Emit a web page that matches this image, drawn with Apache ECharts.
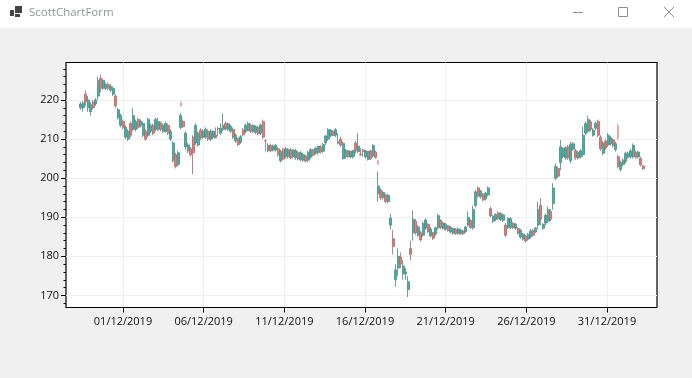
<!DOCTYPE html>
<html>
<head>
<meta charset="utf-8">
<title>ScottChartForm</title>
<script src="https://cdn.jsdelivr.net/npm/echarts@6/dist/echarts.min.js"></script>
<style>
  html, body { margin: 0; padding: 0; background: #f0f0f0; }
  #chart { width: 692px; height: 378px; }
</style>
</head>
<body>
<div id="chart"></div>
<script>
// x positions: days of December 2019, first candle and spacing
const firstDay = -1.63
const dayStep = 0.155

const opens = [
  218,218,221.5,218,217,219.5,219,221,225.5,223,223,224,222.5,221.5,221,215.5,213.5,214.5,210.5,210,
  214,212.5,212.5,215,213.5,211,212,211,212,213.5,212.5,212.5,214,212,212,213.5,210,204.5,206,203.5,
  213,214.5,208,207,207.5,210.5,209,208.5,212.3,210.5,210.5,212,210,210.5,211,212.7,211.5,212.5,214,212.5,
  212,212.5,209.5,210.2,209.2,212.3,212,212.2,213.5,212,211.7,213,211.5,214.5,209.5,207,208.3,207.2,207.2,207.5,
  204.5,207.3,205.5,205.5,207.2,205.5,205.2,206.5,204.7,204.6,205.7,204.6,205.4,207.2,206.4,206.5,208,206.9,209,210,
  210.9,212,211,209,210,205,205.5,207,205.4,205.5,209,206.8,206.1,207.2,205.4,204.8,207,205.7,206.7,196,
  197,195,195.7,194,188,184.5,174,177,179.8,175.5,175.5,171.5,182,186,189,185.4,186,185.4,187.2,188.2,
  185.2,186,185.7,187.3,189.2,187.2,186.9,187.8,186.2,185.9,186.9,185.9,185.8,186.5,186.3,188,189.2,187.3,193,197.5,
  195.2,195.9,194.7,195.7,192.2,189,189.4,191.1,189.4,189.2,188,187.4,187.4,188.4,187.2,187.1,184.9,184.4,185.2,184.4,
  185,186.6,186.2,188,193,187.2,188.5,189,191.5,193.5,200,202.5,204,205.5,205.2,208,204.5,207.4,207,205.2,
  205.5,206,211.5,212,214.4,211,212.8,214.5,210.5,206.4,209.5,208.5,208.8,209.8,207.3,205.5,202.2,203.5,204.3,205.4,
  205.5,205.5,206.6,205.4,205,203.1
]
const closes = [
  219,219.3,219.5,220,218.8,218,220,225,223,225,224,223,223.5,223,218.5,217.5,216,213,213,212,
  211,216,214.5,213,214.5,214,210,215,213.5,211.5,215,214.5,212.5,213.5,214,211.5,212,209,203,206.5,
  216,213.2,211.5,208.5,206,206.5,213.5,211.5,210.3,212,212.5,210,212,212,210.3,212.6,212.8,213.5,212.6,213.9,
  213.3,210.5,211,208.6,210.6,211.1,213.5,214,212,213.5,213.2,211.4,213.6,210.5,209.5,208.4,207,208.2,208.4,206,
  206.8,204.9,207.5,207.3,205.2,207.2,207,204.9,206.5,206,204.4,206.6,207.3,205.9,207.7,208.2,206.7,208.6,210.8,212.4,
  212.2,210.9,212.4,209.3,208.5,208.9,207.1,205.5,206.9,207,207,208.2,205.9,206.9,207,206.8,205,208.3,205.3,198,
  195,196.3,194,195.6,189.8,182.5,176.5,180,178,177.5,176,173.5,180.5,189.5,186,187.5,184.2,188.4,189.3,186.3,
  187,184.6,187.3,190.4,187.3,188.5,188.2,186.6,187.4,187.1,185.8,187,186.7,185.8,187.5,190,187.3,192,196.5,195.5,
  196.7,194.4,196.1,197.5,190.4,190.2,190.7,189.7,190.9,190.6,185.4,189.7,189.6,187.3,188.2,185.9,186.6,185.7,183.9,185.6,
  186.5,185.4,187.2,192,189.5,188.2,190.5,192,189.5,197.5,203,200.5,208,207.5,207.8,205.2,208.7,208.8,205.2,206.6,
  207,211,214,215,212.5,212.3,214,211,207.5,209,207.7,211,210.3,208.3,208.8,203,204,204.6,206.3,206.4,
  207,208.4,205.4,206.7,203.4,202.4
]
const lows = [
  217.5,217,218.5,217,216,217.5,218.5,220,222,222.5,222.5,222.5,222,221,218,215,213,212.5,210,209.5,
  210.5,212,212,212.5,213,210.5,209.5,210.5,211.5,211,212,212,212,211.5,211.5,211,209.5,204,202.5,203,
  212.5,212.8,207.3,206.4,205.5,201,208.5,208,209.8,210,210,209.5,209.5,210,210.7,210.8,211,212,212.2,212,
  211.5,210,209,208.1,208.8,210.8,211.5,212,211.5,211.5,211.3,211,211,210,206.8,206.6,206.6,206.8,206.8,205.5,
  204,204.5,205,205,204.8,205,204.7,204.5,204.3,204.2,204,204.2,205,205.5,206,206,206.3,206.5,208.5,209.5,
  210.5,210.7,210.5,208.7,208,204.7,205,205.2,205,205,206.3,206.4,205.8,205.5,205,204.5,204.7,205.3,205,194,
  194.4,194.5,193.6,193.5,186.8,180.5,172.2,175,177,174,174,169.6,179,184,185.5,185,183.8,185,186.8,186,
  184.8,184.2,185.3,186.8,187,186.8,186.5,186.3,185.8,185.5,185.5,185.5,185.5,185.5,186,187.6,187,186.8,192.5,195,
  194.8,194,194.3,195.3,190,188.5,189,189.3,189,188.8,185,187,187,187,186.8,185.5,184.5,184,183.5,184,
  184.5,185,186,187,188,186.8,188,188.5,189,191.9,199.5,200,202,205,204.7,204.7,203.8,207,204.7,204.7,
  205,205.5,211,211.5,212,210.6,212.3,210.5,207,205.9,207.2,208,208.3,207.8,206.8,202.5,201.7,203,203.8,205,
  205,205,205,205,203,202.1
]
const highs = [
  219.5,219.8,222.5,221,219.5,220,220.5,226,226.5,225.5,224.5,224.5,224,223.5,221.5,218,216.5,215,213.5,212.5,
  214.5,218,215,215.5,215,214.5,212.5,215.5,214,214,215.5,215.5,214.5,214,214.5,214,212.5,209.5,206.5,207,
  216.7,215,212,209,208,211,214,212,212.8,212.5,213,212.5,212.5,212.3,213,213.2,214,216.6,214.5,214.3,
  213.7,213,211.5,210.3,211,212.8,214,214.5,214,213.8,213.5,213.5,214,215,210,209,208.8,208.6,208.8,208,
  207.3,207.8,208,207.7,207.7,207.5,207.5,207,206.9,206.5,206,207,207.7,207.5,208,208,208.5,209,211,212.8,
  212.6,212.3,212.8,211.5,210.5,209.4,207.5,207.3,207,207.3,209.5,211.5,207.7,207.5,207.2,207,207.3,208.7,207,201.7,
  197.4,196.8,196,196,190.9,186.8,178,182,181,179,177,175,184,191.7,189.5,188,186.5,188.9,189.7,188.5,
  187.5,186.3,187.6,190.9,189.5,188.9,188.5,188,187.8,187.4,187.2,187.4,187,186.8,187.8,191.5,189.5,193,197,197.9,
  197,196.2,196.5,197.9,192.7,190.6,191,191.5,191.3,191,188.5,190,190,188.8,188.5,187.5,187,186,185.5,186,
  187,187,187.5,194,194.9,188.5,191,192.7,192,198.7,203.8,203,209.8,208,208.2,208.5,209.3,209.3,207.5,207,
  207.5,213.2,214.5,215.9,214.9,212.8,214.5,215,211,209.5,210,211.5,210.8,210.3,209.3,206,204.5,205,206.8,206.8,
  207.5,208.9,207,207,205.5,203.4
]

// isolated marks that stand apart from the main band
const spikeDays = [4.6, 16.8, 31.68]
const spikeOpens = [219.4, 204.5, 213.5]
const spikeCloses = [218.5, 203.6, 210.2]
const spikeLows = [218.3, 203.4, 209.8]
const spikeHighs = [219.7, 204.7, 214]

const yTicks = [170, 180, 190, 200, 210, 220]
const yMinorTicks = [168, 172, 174, 176, 178, 182, 184, 186, 188, 192, 194, 196, 198, 202, 204, 206, 208, 212, 214, 216, 218, 222, 224, 226, 228]
const xTicks = [1, 6, 11, 16, 21, 26, 31]
const xTickLabels = ['01/12/2019', '06/12/2019', '11/12/2019', '16/12/2019', '21/12/2019', '26/12/2019', '31/12/2019']

const candles = closes.map((c, i) => [firstDay + i * dayStep, opens[i], c, lows[i], highs[i]])
const spikes = spikeDays.map((d, i) => [d, spikeOpens[i], spikeCloses[i], spikeLows[i], spikeHighs[i]])

const yMin = 166.9
const yMax = 229.6
const upColor = '#2aa198'
const downColor = '#e8605f'
const fontFamily = '"Open Sans", sans-serif'
const chromeGrey = '#8f8f8f'

const chart = echarts.init(document.getElementById('chart'), null, { renderer: 'canvas' })
chart.setOption({
  animation: false,
  backgroundColor: '#f0f0f0',
  textStyle: { fontFamily },
  grid: {
    show: true,
    left: 66,
    top: 62.5,
    width: 591,
    height: 245,
    backgroundColor: '#fff',
    borderColor: '#000',
    borderWidth: 1.2
  },
  xAxis: {
    type: 'value',
    min: -2.533,
    max: 34.1,
    axisLine: { show: false, onZero: false },
    axisTick: { length: 5, customValues: xTicks, lineStyle: { color: '#000' } },
    axisLabel: {
      customValues: xTicks,
      color: '#111',
      fontSize: 11,
      margin: 9,
      formatter: (v) => xTickLabels[xTicks.indexOf(v)]
    },
    splitLine: { show: true, lineStyle: { color: '#efefef', width: 1 } }
  },
  yAxis: [
    {
      type: 'value',
      min: yMin,
      max: yMax,
      axisLine: { show: false, onZero: false },
      axisTick: { length: 5, customValues: yTicks, lineStyle: { color: '#000' } },
      axisLabel: { customValues: yTicks, color: '#111', fontSize: 11, margin: 7 },
      splitLine: { show: true, lineStyle: { color: '#efefef', width: 1 } }
    },
    {
      type: 'value',
      position: 'left',
      min: yMin,
      max: yMax,
      axisLine: { show: false, onZero: false },
      axisTick: { show: true, length: 2.5, customValues: yMinorTicks, lineStyle: { color: '#000' } },
      axisLabel: { show: false },
      splitLine: { show: false }
    }
  ],
  series: [
    {
      type: 'candlestick',
      name: 'main',
      barWidth: 2.6,
      data: candles,
      encode: { x: 0, y: [1, 2, 3, 4] },
      itemStyle: { color: upColor, color0: downColor, borderColor: '#4f8f88', borderColor0: '#a8716c', borderWidth: 1, opacity: 0.85 }
    },
    {
      type: 'candlestick',
      name: 'spikes',
      barWidth: 1.4,
      data: spikes,
      encode: { x: 0, y: [1, 2, 3, 4] },
      itemStyle: { color: '#f6a5a5', color0: '#f6a5a5', borderColor: '#f6a5a5', borderColor0: '#f6a5a5', borderWidth: 1 }
    }
  ],
  graphic: [
    { type: 'rect', shape: { x: 0, y: 0, width: 692, height: 28 }, style: { fill: '#fff' } },
    { type: 'rect', shape: { x: 10, y: 10, width: 4, height: 6 }, style: { fill: '#444' } },
    { type: 'rect', shape: { x: 15, y: 6, width: 7, height: 7 }, style: { fill: '#444' } },
    { type: 'rect', shape: { x: 15, y: 14, width: 5, height: 3 }, style: { fill: '#444' } },
    { type: 'text', x: 29, y: 13, style: { text: 'ScottChartForm', fill: '#8e949c', font: '11.5px ' + fontFamily, verticalAlign: 'middle' } },
    { type: 'line', shape: { x1: 573, y1: 12.5, x2: 583, y2: 12.5 }, style: { stroke: chromeGrey, lineWidth: 1 } },
    { type: 'rect', shape: { x: 618.5, y: 7.5, width: 9, height: 9 }, style: { fill: 'none', stroke: chromeGrey, lineWidth: 1 } },
    { type: 'line', shape: { x1: 664, y1: 7, x2: 674, y2: 17 }, style: { stroke: chromeGrey, lineWidth: 1 } },
    { type: 'line', shape: { x1: 674, y1: 7, x2: 664, y2: 17 }, style: { stroke: chromeGrey, lineWidth: 1 } }
  ]
})
</script>
</body>
</html>
